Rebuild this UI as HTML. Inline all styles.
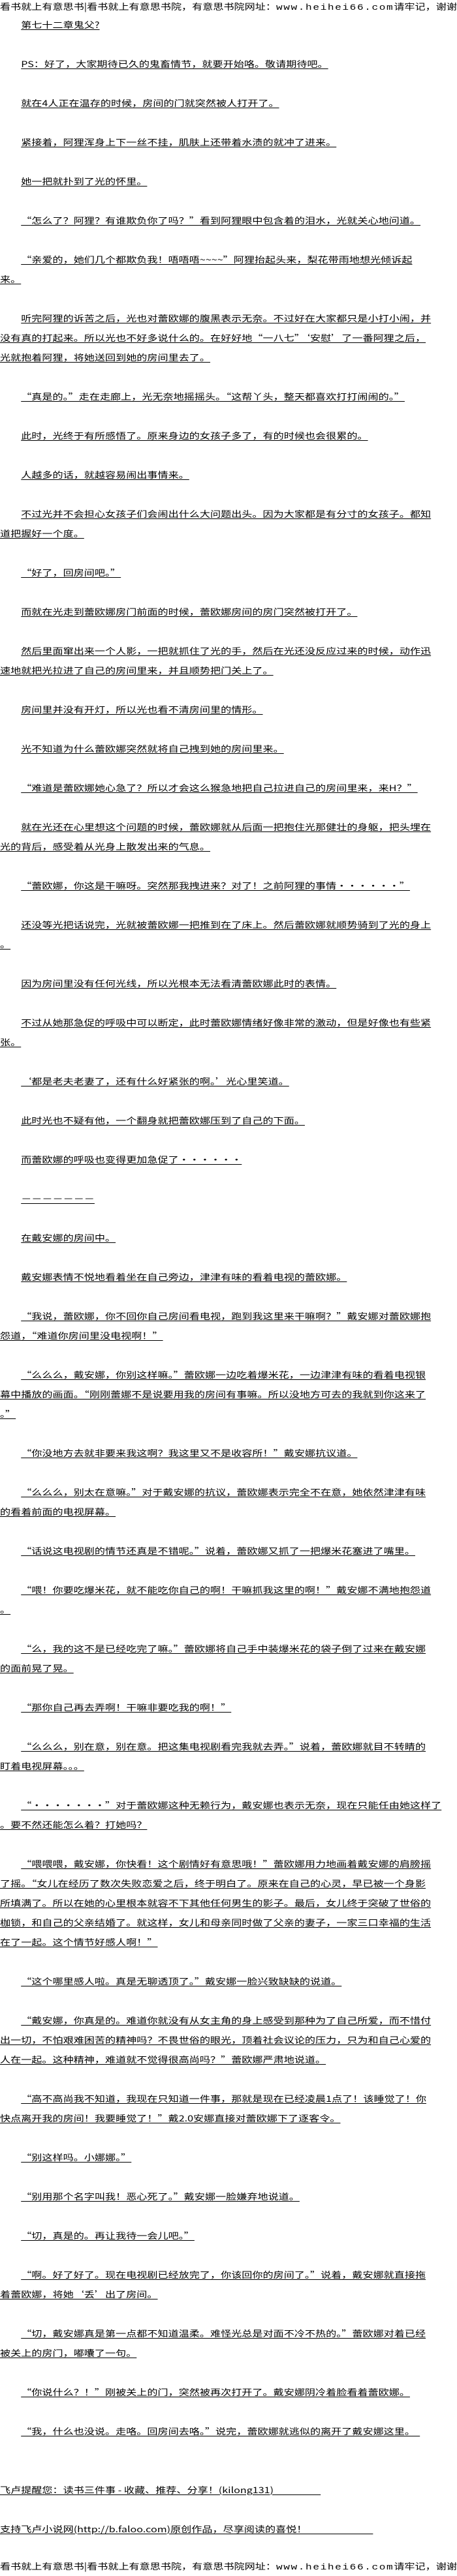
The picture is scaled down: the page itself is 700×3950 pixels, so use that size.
<!DOCTYPE html>
<html><head><meta charset="utf-8">
<style>
html,body{margin:0;padding:0;background:#fff;}
body{width:700px;height:3950px;overflow:hidden;position:relative;}
#w{position:absolute;left:0;top:0;width:565px;transform:scaleX(1.2385);transform-origin:0 0;
font-family:"Noto Sans CJK SC","WenQuanYi Zen Hei",sans-serif;font-size:13px;color:#000;}
.hd{height:23px;line-height:20px;white-space:nowrap;overflow:visible;font-size:13px;}
.hd .l{font-family:"Liberation Mono",monospace;letter-spacing:1.3px;}
p{margin:0 0 30px 0;line-height:30px;text-indent:2em;white-space:nowrap;text-decoration:underline;text-underline-offset:2px;}
p.n{text-indent:0;}
p.f1{margin-top:60px;}
.ft{line-height:24px;white-space:nowrap;}
</style></head><body>
<div id="w">
<div class="hd">看书就上有意思书|看书就上有意思书院，有意思书院网址：<span class="l">www.heihei66.com</span>请牢记，谢谢</div>
<p>第七十二章鬼父?</p>
<p>PS：好了，大家期待已久的鬼畜情节，就要开始咯。敬请期待吧。</p>
<p>就在4人正在温存的时候，房间的门就突然被人打开了。</p>
<p>紧接着，阿狸浑身上下一丝不挂，肌肤上还带着水渍的就冲了进来。</p>
<p>她一把就扑到了光的怀里。</p>
<p>“怎么了？阿狸？有谁欺负你了吗？”看到阿狸眼中包含着的泪水，光就关心地问道。</p>
<p>“亲爱的，她们几个都欺负我！唔唔唔~~~~”阿狸抬起头来，梨花带雨地想光倾诉起<br>来。</p>
<p>听完阿狸的诉苦之后，光也对蕾欧娜的腹黑表示无奈。不过好在大家都只是小打小闹，并<br>没有真的打起来。所以光也不好多说什么的。在好好地“一八七”‘安慰’了一番阿狸之后，<br>光就抱着阿狸，将她送回到她的房间里去了。</p>
<p>“真是的。”走在走廊上，光无奈地摇摇头。“这帮丫头，整天都喜欢打打闹闹的。”</p>
<p>此时，光终于有所感悟了。原来身边的女孩子多了，有的时候也会很累的。</p>
<p>人越多的话，就越容易闹出事情来。</p>
<p>不过光并不会担心女孩子们会闹出什么大问题出头。因为大家都是有分寸的女孩子。都知<br>道把握好一个度。</p>
<p>“好了，回房间吧。”</p>
<p>而就在光走到蕾欧娜房门前面的时候，蕾欧娜房间的房门突然被打开了。</p>
<p>然后里面窜出来一个人影，一把就抓住了光的手，然后在光还没反应过来的时候，动作迅<br>速地就把光拉进了自己的房间里来，并且顺势把门关上了。</p>
<p>房间里并没有开灯，所以光也看不清房间里的情形。</p>
<p>光不知道为什么蕾欧娜突然就将自己拽到她的房间里来。</p>
<p>“难道是蕾欧娜她心急了？所以才会这么猴急地把自己拉进自己的房间里来，来H？”</p>
<p>就在光还在心里想这个问题的时候，蕾欧娜就从后面一把抱住光那健壮的身躯，把头埋在<br>光的背后，感受着从光身上散发出来的气息。</p>
<p>“蕾欧娜，你这是干嘛呀。突然那我拽进来？对了！之前阿狸的事情・・・・・・”</p>
<p>还没等光把话说完，光就被蕾欧娜一把推到在了床上。然后蕾欧娜就顺势骑到了光的身上<br>。</p>
<p>因为房间里没有任何光线，所以光根本无法看清蕾欧娜此时的表情。</p>
<p>不过从她那急促的呼吸中可以断定，此时蕾欧娜情绪好像非常的激动，但是好像也有些紧<br>张。</p>
<p>‘都是老夫老妻了，还有什么好紧张的啊。’光心里笑道。</p>
<p>此时光也不疑有他，一个翻身就把蕾欧娜压到了自己的下面。</p>
<p>而蕾欧娜的呼吸也变得更加急促了・・・・・・</p>
<p>－－－－－－－</p>
<p>在戴安娜的房间中。</p>
<p>戴安娜表情不悦地看着坐在自己旁边，津津有味的看着电视的蕾欧娜。</p>
<p>“我说，蕾欧娜，你不回你自己房间看电视，跑到我这里来干嘛啊？”戴安娜对蕾欧娜抱<br>怨道，“难道你房间里没电视啊！”</p>
<p>“么么么，戴安娜，你别这样嘛。”蕾欧娜一边吃着爆米花，一边津津有味的看着电视银<br>幕中播放的画面。“刚刚蕾娜不是说要用我的房间有事嘛。所以没地方可去的我就到你这来了<br>。”</p>
<p>“你没地方去就非要来我这啊？我这里又不是收容所！”戴安娜抗议道。</p>
<p>“么么么，别太在意嘛。”对于戴安娜的抗议，蕾欧娜表示完全不在意，她依然津津有味<br>的看着前面的电视屏幕。</p>
<p>“话说这电视剧的情节还真是不错呢。”说着，蕾欧娜又抓了一把爆米花塞进了嘴里。</p>
<p>“喂！你要吃爆米花，就不能吃你自己的啊！干嘛抓我这里的啊！”戴安娜不满地抱怨道<br>。</p>
<p>“么，我的这不是已经吃完了嘛。”蕾欧娜将自己手中装爆米花的袋子倒了过来在戴安娜<br>的面前晃了晃。</p>
<p>“那你自己再去弄啊！干嘛非要吃我的啊！”</p>
<p>“么么么，别在意，别在意。把这集电视剧看完我就去弄。”说着，蕾欧娜就目不转睛的<br>盯着电视屏幕。。。</p>
<p>“・・・・・・・”对于蕾欧娜这种无赖行为，戴安娜也表示无奈，现在只能任由她这样了<br>。要不然还能怎么着？打她吗？</p>
<p>“喂喂喂，戴安娜，你快看！这个剧情好有意思哦！”蕾欧娜用力地画着戴安娜的肩膀摇<br>了摇。“女儿在经历了数次失败恋爱之后，终于明白了。原来在自己的心灵，早已被一个身影<br>所填满了。所以在她的心里根本就容不下其他任何男生的影子。最后，女儿终于突破了世俗的<br>枷锁，和自己的父亲结婚了。就这样，女儿和母亲同时做了父亲的妻子，一家三口幸福的生活<br>在了一起。这个情节好感人啊！”</p>
<p>“这个哪里感人啦。真是无聊透顶了。”戴安娜一脸兴致缺缺的说道。</p>
<p>“戴安娜，你真是的。难道你就没有从女主角的身上感受到那种为了自己所爱，而不惜付<br>出一切，不怕艰难困苦的精神吗？不畏世俗的眼光，顶着社会议论的压力，只为和自己心爱的<br>人在一起。这种精神，难道就不觉得很高尚吗？”蕾欧娜严肃地说道。</p>
<p>“高不高尚我不知道，我现在只知道一件事，那就是现在已经凌晨1点了！该睡觉了！你<br>快点离开我的房间！我要睡觉了！”戴2.0安娜直接对蕾欧娜下了逐客令。</p>
<p>“别这样吗。小娜娜。”</p>
<p>“别用那个名字叫我！恶心死了。”戴安娜一脸嫌弃地说道。</p>
<p>“切，真是的。再让我待一会儿吧。”</p>
<p>“啊。好了好了。现在电视剧已经放完了，你该回你的房间了。”说着，戴安娜就直接拖<br>着蕾欧娜，将她‘丢’出了房间。</p>
<p>“切，戴安娜真是第一点都不知道温柔。难怪光总是对面不冷不热的。”蕾欧娜对着已经<br>被关上的房门，嘟囔了一句。</p>
<p>“你说什么？！”刚被关上的门，突然被再次打开了。戴安娜阴冷着脸看着蕾欧娜。</p>
<p>“我，什么也没说。走咯。回房间去咯。”说完，蕾欧娜就逃似的离开了戴安娜这里。&nbsp;&nbsp;</p>
<p class="n f1">飞卢提醒您：读书三件事 - 收藏、推荐、分享！(kilong131)&nbsp;&nbsp;&nbsp;&nbsp;&nbsp;&nbsp;&nbsp;&nbsp;&nbsp;&nbsp;&nbsp;&nbsp;&nbsp;&nbsp;&nbsp;&nbsp;&nbsp;&nbsp;&nbsp;&nbsp;</p>
<p class="n">支持飞卢小说网(http://b.faloo.com)原创作品，尽享阅读的喜悦！&nbsp;&nbsp;&nbsp;&nbsp;&nbsp;&nbsp;&nbsp;&nbsp;&nbsp;&nbsp;&nbsp;&nbsp;&nbsp;&nbsp;&nbsp;&nbsp;&nbsp;&nbsp;&nbsp;&nbsp;&nbsp;&nbsp;&nbsp;&nbsp;&nbsp;&nbsp;&nbsp;&nbsp;</p>
<div class="ft hd" style="height:24px;line-height:24px;">看书就上有意思书|看书就上有意思书院，有意思书院网址：<span class="l">www.heihei66.com</span>请牢记，谢谢</div>
</div>
</body></html>
